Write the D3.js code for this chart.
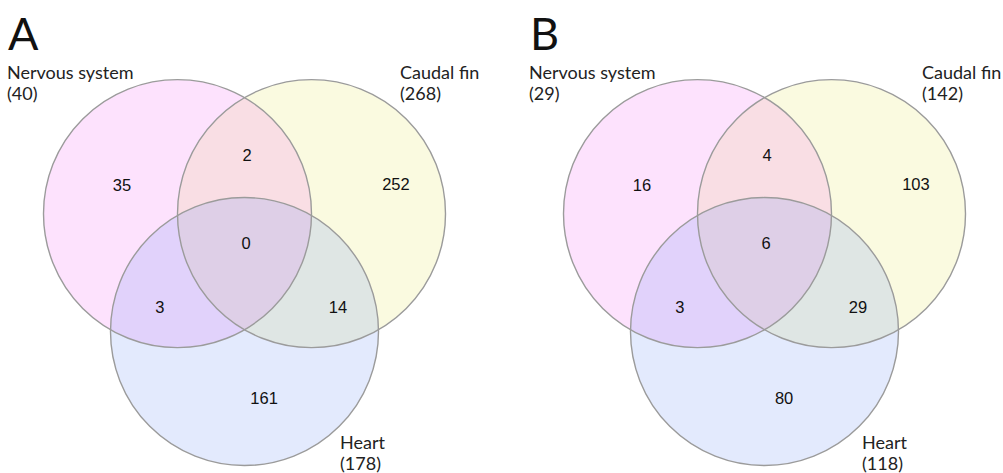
<!DOCTYPE html>
<html>
<head>
<meta charset="utf-8">
<script src="https://cdn.jsdelivr.net/npm/d3@7"></script>
<style>
  html, body { margin: 0; padding: 0; background: #fff; }
  svg { display: block; }
</style>
</head>
<body>
<svg id="chart" width="1003" height="473"></svg>
<script>
// Tissue sets and their colours
const setNames = ["Nervous system", "Caudal fin", "Heart"];
const setColors = ["#f56ef5", "#e6e664", "#7396f5"];

// Panel titles
const panels = ["A", "B"];

// Region counts per panel: only N, only C, only H, N∩C, N∩H, C∩H, N∩C∩H
const regionKeys = ["N", "C", "H", "NC", "NH", "CH", "NCH"];
const countsA = [35, 252, 161, 2, 3, 14, 0];
const countsB = [16, 103, 80, 4, 3, 29, 6];

// Set totals shown under each set name
const totalsA = [40, 268, 178];
const totalsB = [29, 142, 118];

const panelData = [
  { title: panels[0], counts: countsA, totals: totalsA },
  { title: panels[1], counts: countsB, totals: totalsB }
];

// Diagram layout in circle-radius units (origin at the centre of the three circles)
const circleCenters = [[-0.5, -0.29], [0.5, -0.29], [0, 0.59]];
const fillOrder = [1, 0, 2];   // caudal fin underneath, then nervous system, heart on top
const regionSpots = {
  N: [-0.914, -0.504], C: [1.13, -0.511], H: [0.146, 1.086],
  NC: [0.019, -0.728], NH: [-0.631, 0.407], CH: [0.698, 0.407], NCH: [0.011, -0.071]
};

const R = 134;               // circle radius in pixels
const panelOffset = 520;     // horizontal distance between the two panels
const ox = 244.5, oy = 252.5;

const x = d3.scaleLinear().domain([0, 1]).range([ox, ox + R]);
const y = d3.scaleLinear().domain([0, 1]).range([oy, oy + R]);
const rScale = d3.scaleLinear().domain([0, 1]).range([0, R]);

const svg = d3.select("#chart");

const labelFont = "Lato, 'Open Sans', sans-serif";
const numFont = "'Liberation Sans', Arial, sans-serif";

// Set name label anchors (pixels inside a panel)
const setLabelPos = [[7, 79], [400, 79], [340, 449]];

panelData.forEach((p, pi) => {
  const g = svg.append("g").attr("transform", `translate(${pi * panelOffset + pi * 2},0)`);
  const gc = g.append("g").attr("transform", `translate(${-pi * 2},0)`);

  // filled circles
  gc.selectAll("circle.fill")
    .data(fillOrder)
    .join("circle")
    .attr("class", "fill")
    .attr("cx", i => x(circleCenters[i][0]))
    .attr("cy", i => y(circleCenters[i][1]))
    .attr("r", rScale(1))
    .attr("fill", i => setColors[i])
    .attr("fill-opacity", 0.2)
    .attr("stroke", "none");

  // outlines
  gc.selectAll("circle.outline")
    .data(circleCenters)
    .join("circle")
    .attr("class", "outline")
    .attr("cx", d => x(d[0]))
    .attr("cy", d => y(d[1]))
    .attr("r", rScale(1))
    .attr("fill", "none")
    .attr("stroke", "#9b9b9b")
    .attr("stroke-width", 1.4);

  // region counts
  gc.selectAll("text.count")
    .data(regionKeys.map((k, i) => ({ k, v: p.counts[i] })))
    .join("text")
    .attr("class", "count")
    .attr("x", d => x(regionSpots[d.k][0]))
    .attr("y", d => y(regionSpots[d.k][1]))
    .attr("text-anchor", "middle")
    .attr("dominant-baseline", "central")
    .attr("font-family", numFont)
    .attr("font-size", 16.5)
    .attr("fill", "#111")
    .text(d => d.v);

  // panel letter
  g.append("text")
    .attr("x", 8)
    .attr("y", 50)
    .attr("font-family", labelFont)
    .attr("font-size", 45)
    .attr("fill", "#111")
    .text(p.title);

  // set names and totals
  setNames.forEach((name, i) => {
    const t = g.append("text")
      .attr("font-family", labelFont)
      .attr("font-size", 18)
      .attr("fill", "#222");
    t.append("tspan").attr("x", setLabelPos[i][0]).attr("y", setLabelPos[i][1]).text(name);
    t.append("tspan").attr("x", setLabelPos[i][0]).attr("y", setLabelPos[i][1] + 21).text(`(${p.totals[i]})`);
  });
});
</script>
</body>
</html>
